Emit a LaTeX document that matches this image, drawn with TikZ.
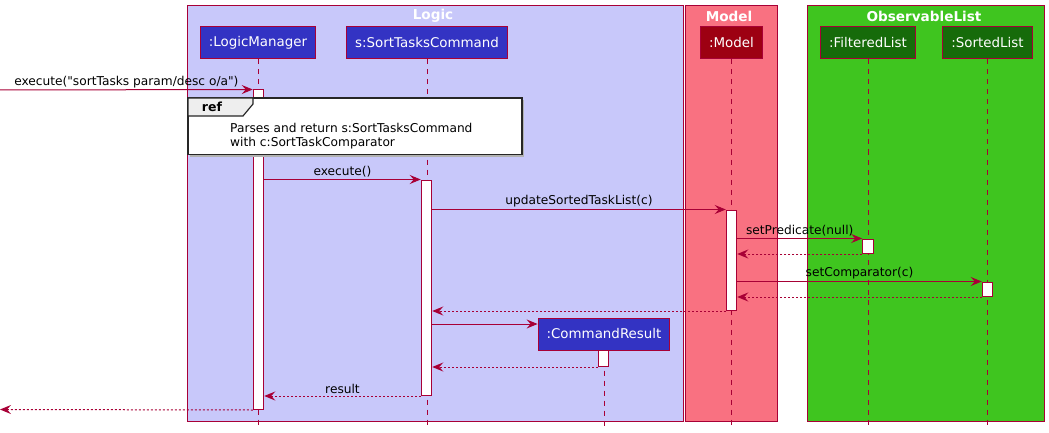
\documentclass[tikz,border=0pt]{standalone}
\usepackage{fontspec}
\setmainfont{DejaVu Sans}[Ligatures=TeXOff]
\usetikzlibrary{arrows.meta}
\definecolor{border}{HTML}{A80036}
\definecolor{logicbg}{HTML}{C8C8FA}
\definecolor{logicfg}{HTML}{3333C3}
\definecolor{modelbg}{HTML}{F97181}
\definecolor{modelfg}{HTML}{9D0012}
\definecolor{listbg}{HTML}{3FC51F}
\definecolor{listfg}{HTML}{166B0A}
\definecolor{refgray}{HTML}{EEEEEE}

\tikzset{
	actor/.style={draw=border, line width=1pt, text=white, font=\fontsize{13.4}{16}\selectfont, minimum height=32pt, inner xsep=8.5pt, inner ysep=0pt},
	actbar/.style={draw=border, fill=white, line width=1pt, minimum width=10.5pt, inner sep=0pt},
	life/.style={border, line width=.9pt, dash pattern=on 5pt off 5pt},
	call/.style={border, line width=1pt, -{Stealth[length=11pt, width=9pt, inset=4pt]}},
	reply/.style={call, dash pattern=on 2pt off 2pt},
	msg/.style={above, inner sep=1.5pt, text=black, font=\fontsize{12.2}{14}\selectfont},
	group/.style={draw=border, line width=1pt},
	grouptitle/.style={text=white, font=\bfseries\fontsize{13.6}{16}\selectfont},
}
% activation bar: name, x, top, bottom
\newcommand{\actbar}[4]{\node[actbar, minimum height={#4-#3}] (#1) at (#2,{(#3+#4)/2}) {};}

\begin{document}
\begin{tikzpicture}[x=1pt, y=-1pt]
	\useasboundingbox (0,0) rectangle (1049,433);

	% boxes
	\draw[group, fill=logicbg] (187.5,6) rectangle (683,421.5);
	\draw[group, fill=modelbg] (685.5,6) rectangle (777.5,421.5);
	\draw[group, fill=listbg] (807.5,6) rectangle (1044,421.5);
	\node[grouptitle] (tLogic) at (433,16) {Logic};
	\node[grouptitle] (tModel) at (729,16) {Model};
	\node[grouptitle] (tList) at (924,16) {ObservableList};

	% participants
	\node[actor, fill=logicfg] (lm) at (258,43) {:LogicManager};
	\node[actor, fill=logicfg] (sc) at (427,43) {s:SortTasksCommand};
	\node[actor, fill=modelfg] (md) at (731.5,43) {:Model};
	\node[actor, fill=listfg] (fl) at (868,43) {:FilteredList};
	\node[actor, fill=listfg] (sl) at (987.5,43) {:SortedList};
	\node[actor, fill=logicfg] (cr) at (604,334) {:CommandResult};

	% lifelines
	\coordinate (bottom) at (0,426);
	\foreach \p in {lm,sc,md,fl,sl,cr}{
		\draw[life] (\p.south) -- (\p.south |- bottom);
	}

	% activations
	\actbar{lmA}{258.5}{90}{409.5}
	\actbar{scA}{426.5}{180}{395.5}
	\actbar{mdA}{731.5}{210}{310.5}
	\actbar{flA}{868}{239}{253.5}
	\actbar{slA}{987.5}{282}{296.5}
	\actbar{crA}{603.5}{350}{366.5}

	% messages
	\coordinate (in) at (0,90);
	\coordinate (out) at (0,409.5);
	\coordinate (crIn) at ([yshift=-6.5pt]cr.north west);
	\draw[call] (in) -- node[msg] {execute("sortTasks param/desc o/a")} (lmA.north west);
	\draw[call] (lmA.east |- scA.north) -- node[msg] {execute()} (scA.north west);
	\draw[call] (scA.east |- mdA.north) -- node[msg] {updateSortedTaskList(c)} (mdA.north west);
	\draw[call] (mdA.east |- flA.north) -- node[msg] {setPredicate(null)} (flA.north west);
	\draw[reply] (flA.south west) -- (mdA.east |- flA.south);
	\draw[call] (mdA.east |- slA.north) -- node[msg] {setComparator(c)} (slA.north west);
	\draw[reply] (slA.south west) -- (mdA.east |- slA.south);
	\draw[reply] (mdA.south west) -- (scA.east |- mdA.south);
	\draw[call] (scA.east |- crIn) -- (crIn);
	\draw[reply] (crA.south west) -- (scA.east |- crA.south);
	\draw[reply] (scA.south west) -- node[msg] {result} (lmA.east |- scA.south);
	\draw[reply] (lmA.south west) -- (out);

	% ref frame
	\fill[black!30] (190,100.5) rectangle (524,156.5);
	\draw[line width=1.5pt, draw=black!85, fill=white] (188,98) rectangle (522,154.5);
	\draw[line width=1.2pt, draw=black!85, fill=refgray] (188,98) -- (253,98) -- (253,104) -- (243,116) -- (188,116) -- cycle;
	\node[font=\bfseries\fontsize{12.5}{14}\selectfont] (refTag) at (212,107) {ref};
	\node[anchor=base west, align=left, inner sep=0pt, font=\fontsize{12.2}{14.5}\selectfont] (refText) at (230,146.5) {Parses and return s:SortTasksCommand\\with c:SortTaskComparator};
\end{tikzpicture}
\end{document}
